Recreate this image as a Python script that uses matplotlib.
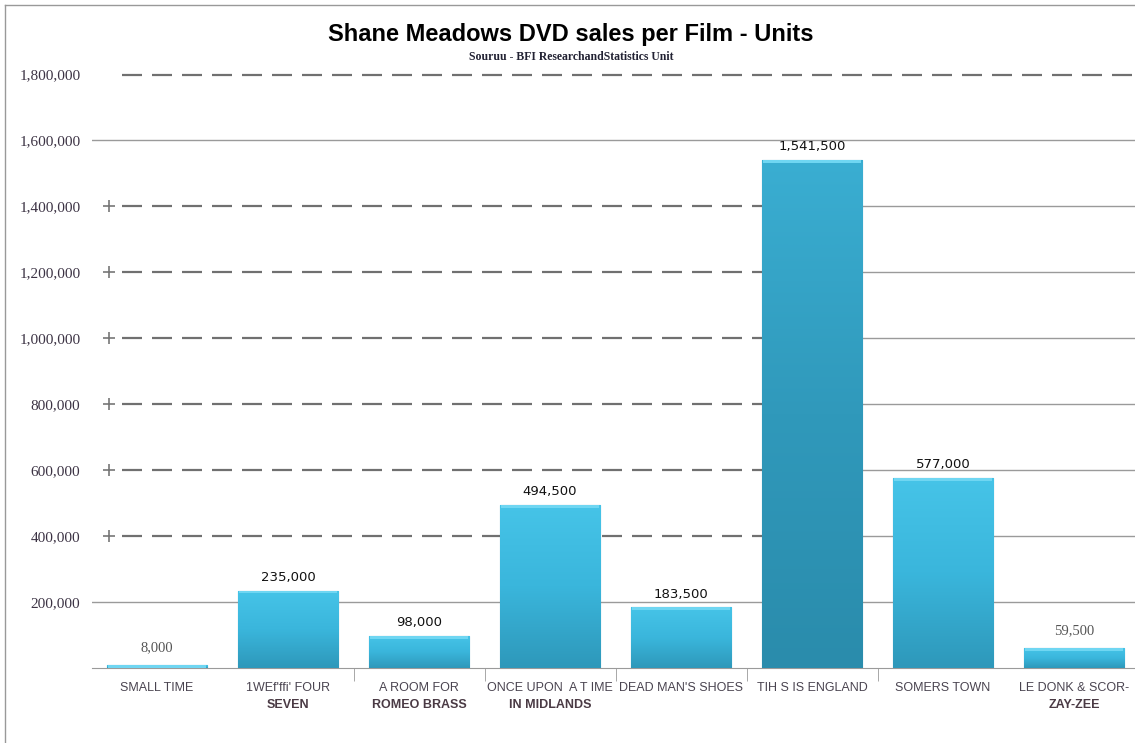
import numpy as np
import matplotlib.pyplot as plt
from matplotlib.colors import LinearSegmentedColormap

films_line1 = ['SMALL TIME', "1WEf'ffi' FOUR", 'A ROOM FOR', 'ONCE UPON  A T IME',
               "DEAD MAN'S SHOES", 'TIH S IS ENGLAND', 'SOMERS TOWN', 'LE DONK & SCOR-']
films_line2 = ['', 'SEVEN', 'ROMEO BRASS', 'IN MIDLANDS', '', '', '', 'ZAY-ZEE']
units = [8000, 235000, 98000, 494500, 183500, 1541500, 577000, 59500]
ytick_vals = [200000, 400000, 600000, 800000, 1000000, 1200000, 1400000, 1600000, 1800000]

fig = plt.figure(figsize=(11.35, 7.43), dpi=100)
ax = fig.add_axes([91.5 / 1135, 1 - 668 / 743, 1048 / 1135, 593.5 / 743])

x = np.arange(len(units))
bars = ax.bar(x, units, width=0.77, color='#38b3d8', edgecolor='#2a8cae',
              linewidth=0.8, zorder=3)

# gradient fill clipped to each bar
cmap = LinearSegmentedColormap.from_list('bar', ['#2e98ba', '#3ab6dc', '#46c4e8'])
grad = np.linspace(0, 1, 256).reshape(-1, 1)
for i, b in enumerate(bars):
    x0, y0, w, h = b.get_x(), b.get_y(), b.get_width(), b.get_height()
    dark = cmap if i != 5 else LinearSegmentedColormap.from_list(
        'bar2', ['#2a8cac', '#3099bb', '#3aaed2'])
    im = ax.imshow(grad, extent=[x0, x0 + w, y0, y0 + h], origin='lower',
                   cmap=dark, aspect='auto', zorder=3)
    im.set_clip_path(b)
    # light bevel on top
    ax.fill_between([x0 + 0.01, x0 + w - 0.01], y0 + h - 9000, y0 + h,
                    color='#6fd6f2', zorder=4, linewidth=0)

ax.set_xlim(-0.5, len(units) - 0.5)
ax.set_ylim(0, 1800000)

# gridlines: dashed on the left part, solid on the right
split = 4.68
for v in ytick_vals:
    if v in (200000, 1600000):
        ax.plot([-0.5, 7.5], [v, v], color='#9a9a9a', lw=1.0, zorder=1)
    elif v == 1800000:
        ax.plot([-0.27, 7.5], [v, v], color='#707070', lw=1.6,
                dashes=(9, 4.5), zorder=1, clip_on=False)
    else:
        ax.plot([-0.27, split], [v, v], color='#707070', lw=1.6,
                dashes=(9, 4.5), zorder=1)
        ax.plot([split, 7.5], [v, v], color='#9a9a9a', lw=1.0, zorder=1)
        ax.plot([-0.37], [v], marker='+', ms=9, mew=1.2, color='#777777', zorder=1)

ax.set_yticks(ytick_vals)
ax.set_yticklabels(['{:,}'.format(v) for v in ytick_vals],
                   fontfamily='Liberation Serif', fontsize=11, color='#3c3344')
ax.tick_params(axis='y', length=0, pad=8)

ax.set_xticks(x)
ax.set_xticklabels([])
ax.set_xticks(np.arange(1.5, 6.5, 1), minor=True)
ax.tick_params(axis='x', which='major', length=0)
ax.tick_params(axis='x', which='minor', length=9, color='#9a9a9a', direction='out')

for s in ['top', 'right', 'left']:
    ax.spines[s].set_visible(False)
ax.spines['bottom'].set_color('#9a9a9a')

xfont = ['Liberation Sans Narrow', 'Liberation Sans']
for i in x:
    ax.text(i, -0.034, films_line1[i], transform=ax.get_xaxis_transform(),
            ha='center', va='center', fontsize=9, family=xfont, color='#4a4450')
    if films_line2[i]:
        ax.text(i, -0.063, films_line2[i], transform=ax.get_xaxis_transform(),
                ha='center', va='center', fontsize=9, family=xfont,
                fontweight='bold', color='#4a3a44')

# value labels
for i, b in enumerate(bars):
    val = units[i]
    if val < 70000:
        ax.annotate('{:,}'.format(val), (b.get_x() + b.get_width() / 2, val),
                    xytext=(0, 8), textcoords='offset points', ha='center',
                    va='bottom', fontsize=10.5, family='Liberation Serif',
                    color='#555555')
    else:
        ax.annotate('{:,}'.format(val), (b.get_x() + b.get_width() / 2, val),
                    xytext=(0, 5), textcoords='offset points', ha='center',
                    va='bottom', fontsize=9.5, family='DejaVu Sans', color='#111111')

fig.text(0.503, 1 - 35 / 743, 'Shane Meadows DVD sales per Film - Units',
         ha='center', va='center', fontsize=17, fontweight='bold',
         family='Liberation Sans')
fig.text(0.503, 1 - 57 / 743, 'Souruu - BFI ResearchandStatistics Unit',
         ha='center', va='center', fontsize=8.5, fontweight='bold',
         family='Liberation Serif', color='#222233')

# frame lines at left and top
fig.add_artist(plt.Line2D([5 / 1135, 5 / 1135], [0, 1 - 5 / 743],
                          transform=fig.transFigure, color='#999999', lw=1))
fig.add_artist(plt.Line2D([5 / 1135, 1], [1 - 5 / 743, 1 - 5 / 743],
                          transform=fig.transFigure, color='#999999', lw=1))

fig.savefig('out.png', dpi=100)
